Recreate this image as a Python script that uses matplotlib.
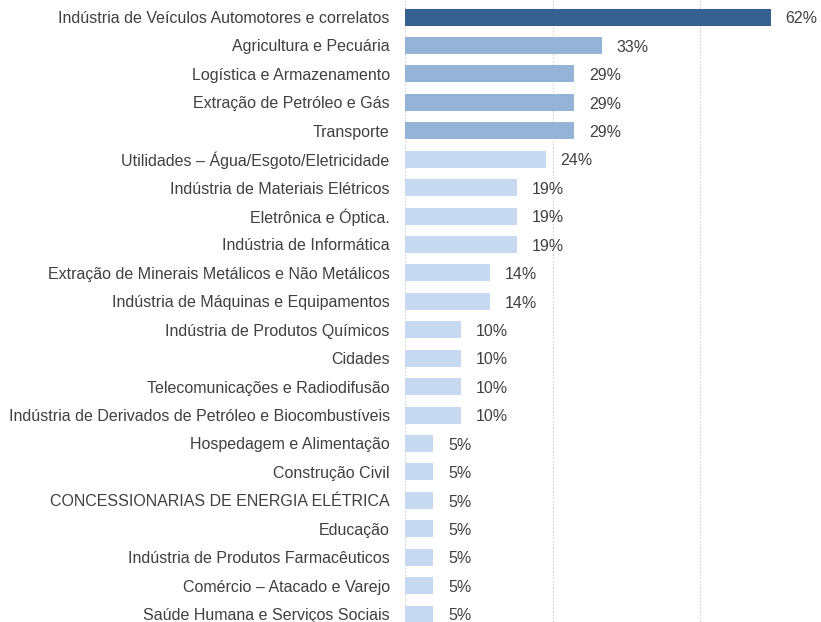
import matplotlib
matplotlib.use("Agg")
import matplotlib.pyplot as plt

categories = [
    "Indústria de Veículos Automotores e correlatos",
    "Agricultura e Pecuária",
    "Logística e Armazenamento",
    "Extração de Petróleo e Gás",
    "Transporte",
    "Utilidades – Água/Esgoto/Eletricidade",
    "Indústria de Materiais Elétricos",
    "Eletrônica e Óptica.",
    "Indústria de Informática",
    "Extração de Minerais Metálicos e Não Metálicos",
    "Indústria de Máquinas e Equipamentos",
    "Indústria de Produtos Químicos",
    "Cidades",
    "Telecomunicações e Radiodifusão",
    "Indústria de Derivados de Petróleo e Biocombustíveis",
    "Hospedagem e Alimentação",
    "Construção Civil",
    "CONCESSIONARIAS DE ENERGIA ELÉTRICA",
    "Educação",
    "Indústria de Produtos Farmacêuticos",
    "Comércio – Atacado e Varejo",
    "Saúde Humana e Serviços Sociais",
]
values = [61.9, 33.3, 28.6, 28.6, 28.6, 23.8, 19.0, 19.0, 19.0, 14.3, 14.3,
          9.5, 9.5, 9.5, 9.5, 4.8, 4.8, 4.8, 4.8, 4.8, 4.8, 4.8]

dark = "#36608f"
mid = "#95b3d7"
light = "#c6d9f0"
colors = [dark if v > 50 else (mid if v > 25 else light) for v in values]

plt.rcParams["font.family"] = ["Liberation Sans", "DejaVu Sans"]
text_color = "#404040"

fig = plt.figure(figsize=(8.21, 6.22), dpi=100)
ax = fig.add_axes([405 / 821, 0, 416 / 821, 1])

y = list(range(len(categories)))
ax.barh(y, values, height=0.6, color=colors, zorder=2)

for yi, v in zip(y, values):
    ax.text(v + 2.5, yi + 0.06, f"{round(v)}%", va="center", ha="left",
            fontsize=11.5, color=text_color)

ax.set_yticks(y)
ax.set_yticklabels(categories, fontsize=11.5, color=text_color)
ax.tick_params(axis="y", length=0, pad=11)
ax.set_xticks([0, 25, 50])
ax.tick_params(axis="x", length=0, labelbottom=False)
ax.grid(axis="x", color="#d0d0d0", linestyle=(0, (1.5, 1.5)), linewidth=0.8, zorder=0)
ax.set_xlim(0, 70.4)
ax.set_ylim(21.28, -0.6)
for s in ax.spines.values():
    s.set_visible(False)

fig.savefig("out.png", dpi=100)
